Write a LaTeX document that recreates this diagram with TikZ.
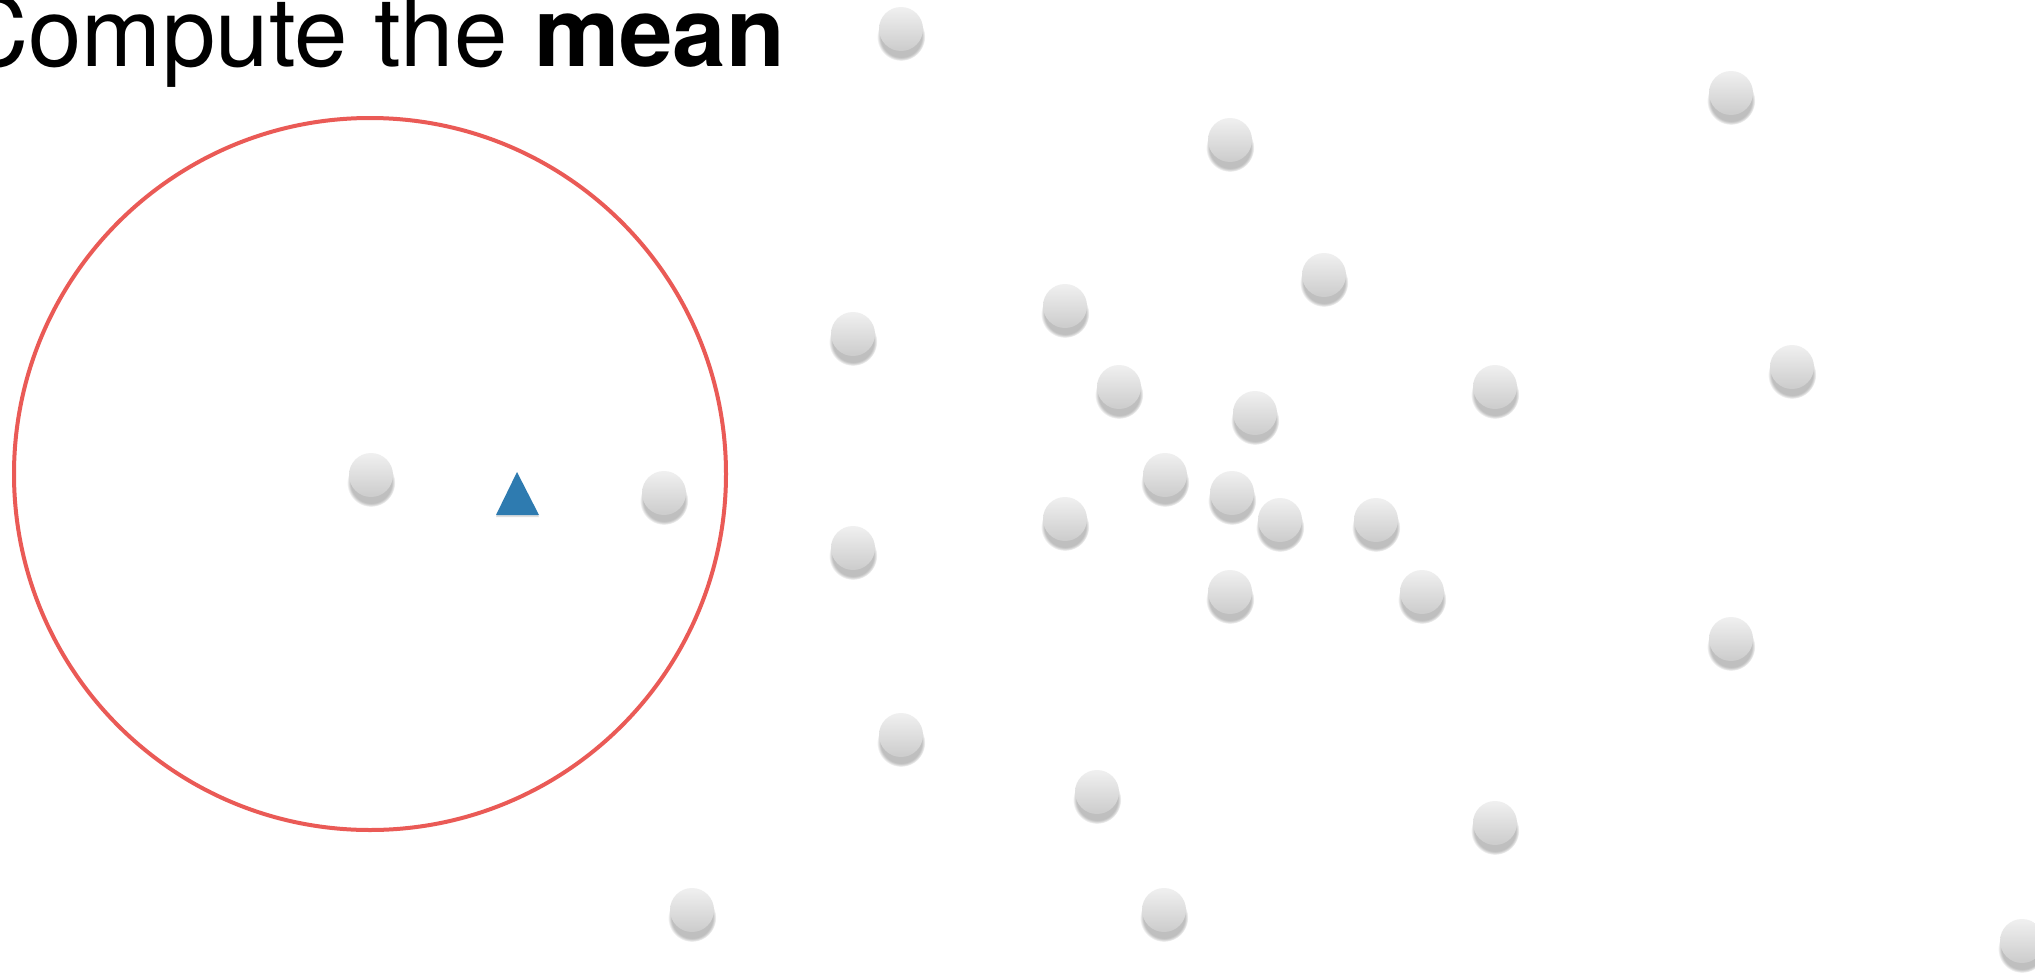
\documentclass[tikz,border=0pt]{standalone}
\usepackage{fontspec}
\setmainfont{TeX Gyre Heros}
\usetikzlibrary{shadows}
\definecolor{dotTop}{RGB}{240,240,240}
\definecolor{dotBot}{RGB}{204,204,204}
\definecolor{ringRed}{RGB}{234,90,86}
\definecolor{meanBlue}{RGB}{46,123,176}
\tikzset{
  dot/.style={circle, minimum size=44, inner sep=0pt, draw=none,
    top color=dotTop, bottom color=dotBot,
    circular drop shadow={shadow xshift=0pt, shadow yshift=-7pt,
      shadow scale=1.1, opacity=0.5}},
  ring/.style={draw=ringRed, line width=4pt},
  meanmark/.style={fill=meanBlue,
    drop shadow={shadow xshift=0pt, shadow yshift=-2pt, opacity=0.25}},
  title/.style={anchor=base east, inner sep=0pt,
    font=\fontsize{96}{100}\selectfont}
}
\begin{document}
\begin{tikzpicture}[x=1pt, y=-1pt]
  \useasboundingbox (0,0) rectangle (2035,972);
  \fill[white] (0,0) rectangle (2035,972);

  % title
  \node[title] (heading) at (785,66) {Compute the \textbf{mean}};

  % neighbourhood window
  \draw[ring] (370,474) circle (356);

  % data points
  \foreach \px/\py [count=\i] in {
      901/29, 1731/93, 1230/140, 1324/275, 1065/306, 853/334, 1792/367,
      1119/387, 1495/387, 1255/413, 371/475, 664/493, 1165/475, 1232/493,
      1280/520, 1376/520, 1065/519, 853/548, 1230/592, 1422/592, 1731/639,
      901/735, 1097/792, 1495/823, 692/910, 1164/910, 2022/941}
    \node[dot] (d\i) at (\px,\py) {};

  % current mean estimate
  \coordinate (mtop) at (517,472);
  \coordinate (mright) at (539,515);
  \coordinate (mleft) at (496,515);
  \fill[meanmark] (mtop) -- (mright) -- (mleft) -- cycle;
\end{tikzpicture}
\end{document}
